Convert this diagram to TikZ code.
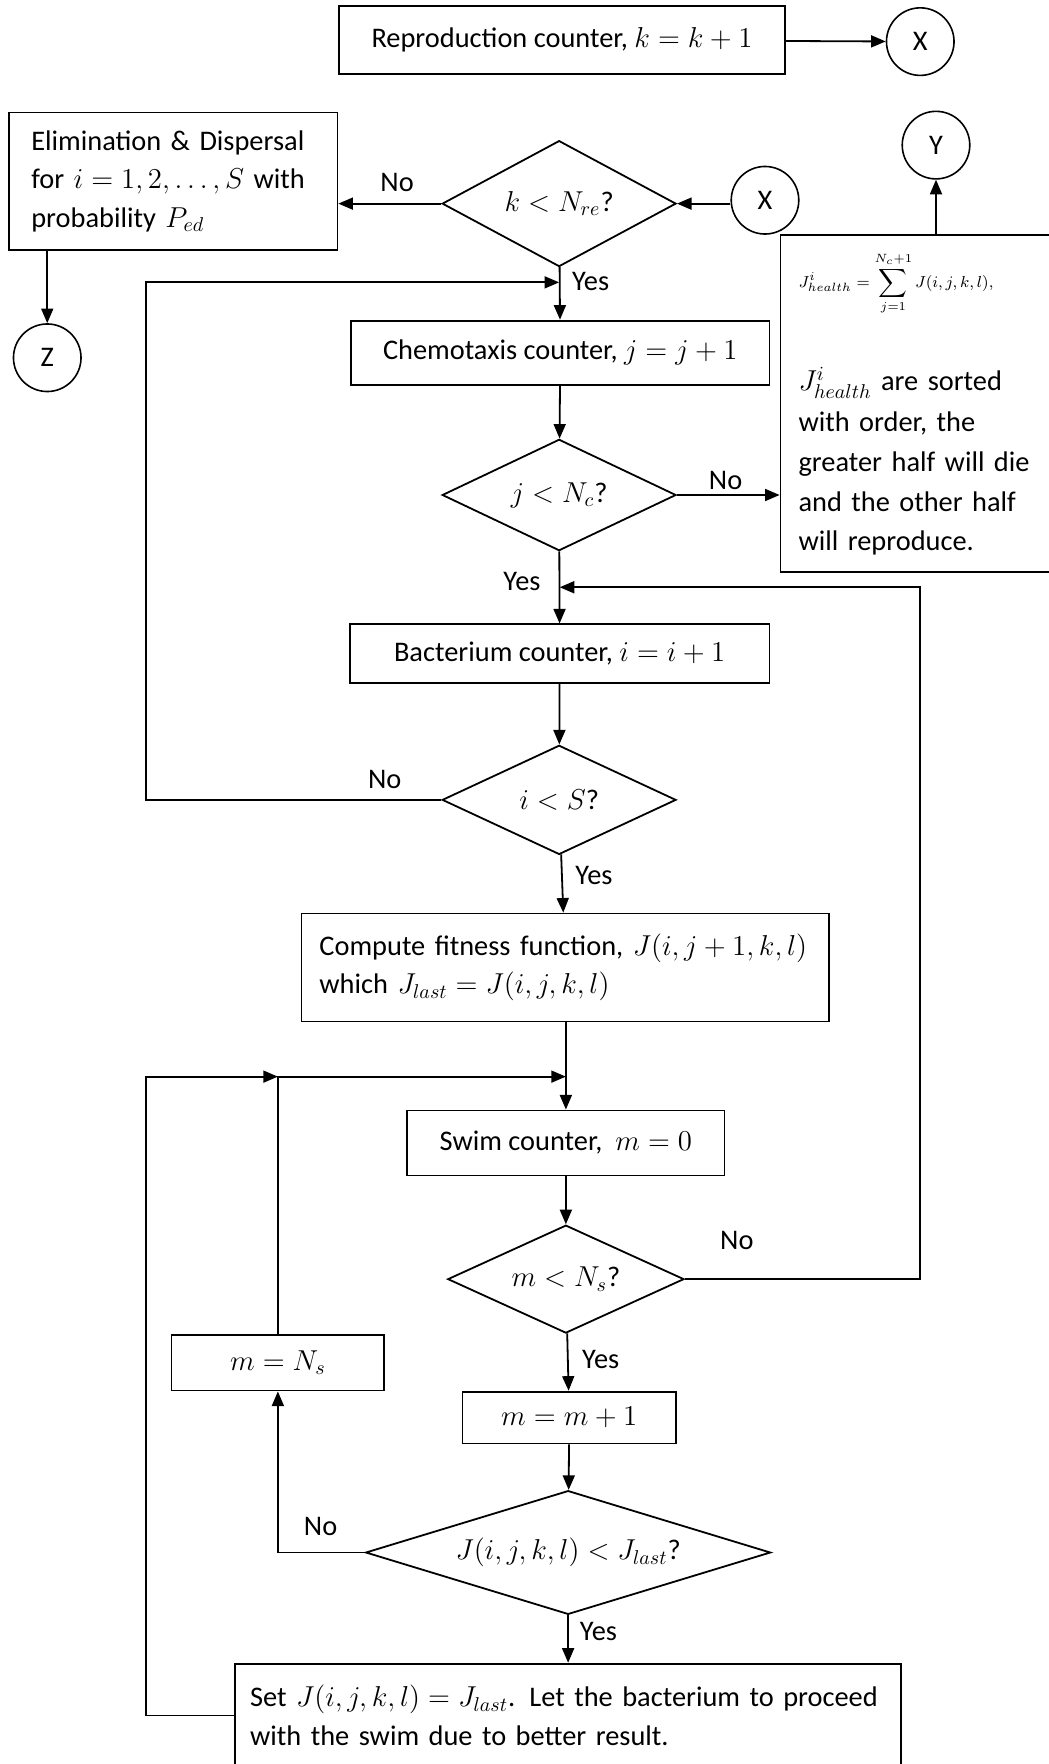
\documentclass[tikz,border=0pt]{standalone}
\usepackage{fontspec}
\setmainfont{Carlito}
\usetikzlibrary{shapes.geometric,arrows.meta,positioning}
\tikzset{
  box/.style = {draw, rectangle, line width=0.9pt, inner sep=0pt},
  decision/.style = {draw, diamond, line width=0.9pt, inner sep=0pt},
  conn/.style = {draw, circle, line width=0.8pt, minimum size=33.8pt, inner sep=0pt},
  lbl/.style = {inner sep=0pt},
  arr/.style = {-{Triangle[length=7.3pt,width=6pt]}, line width=0.9pt},
  link/.style = {line width=0.9pt}
}

\begin{document}
\begin{tikzpicture}[x=0.5628pt, y=0.5628pt, font=\fontsize{14.2pt}{19.3pt}\selectfont]
      \useasboundingbox (0,0) rectangle (932,-1568);

      % top row
      \node[box, minimum width=223.4pt, minimum height=34.3pt] (repro) at (499.5,-35.5) {Reproduction counter, $k = k + 1$};
      \node[conn] (X1) at (818,-37) {X};
      \draw[arr] (repro) -- (X1);

      % reproduction test
      \node[decision, aspect=1.86, minimum width=117pt, minimum height=63pt] (dec1) at (497,-181) {$k < N_{re}$?};
      \node[conn] (X2) at (680,-178) {X};
      \node[box, text width=142pt, inner xsep=11.15pt, minimum height=68.7pt, align=left] (elim) at (154,-161)
        {Elimination \& Dispersal\\ for $i = 1,2,\ldots,S$ with\\ probability $P_{ed}$};
      \node[conn] (Z) at (42,-318) {Z};
      \node[conn] (Y) at (832,-129) {Y};
      \node[box, anchor=north west, text width=118pt, inner xsep=9pt, minimum height=168.8pt, align=left] (health) at (693,-208)
        {{\footnotesize $\displaystyle J^{i}_{health} = \sum_{j=1}^{N_c+1} J(i,j,k,l),$}\\[25pt]
         {\fontsize{14.2pt}{20.1pt}\selectfont $J^{i}_{health}$ are sorted\\ with order, the\\ greater half will die\\ and the other half\\ will reproduce.}};

      % chemotaxis loop
      \node[box, minimum width=209.4pt, minimum height=32.1pt] (chemo) at (498,-313.5) {Chemotaxis counter, $j = j + 1$};
      \node[decision, aspect=2.1, minimum width=117pt, minimum height=55.7pt] (dec2) at (497,-440) {$j < N_c$?};
      \node[box, minimum width=209.9pt, minimum height=29.3pt] (bact) at (497.5,-581) {Bacterium counter, $i = i + 1$};
      \node[decision, aspect=2.1, minimum width=117pt, minimum height=54.6pt] (dec3) at (497,-711) {$i < S$?};
      \node[box, text width=246pt, inner xsep=9pt, minimum height=54pt, align=left] (fit) at (502.5,-860)
        {Compute fitness function, $J(i,j+1,k,l)$\\ which $J_{last} = J(i,j,k,l)$};

      % swim loop
      \node[box, minimum width=158.7pt, minimum height=32.6pt] (swim) at (503,-1016) {Swim counter,~ $m = 0$};
      \node[decision, aspect=2.2, minimum width=118.2pt, minimum height=54pt] (dec4) at (503,-1137) {$m < N_s$?};
      \node[box, minimum width=106.4pt, minimum height=27.6pt] (mN) at (247,-1211.5) {$m = N_s$};
      \node[box, minimum width=106.9pt, minimum height=25.9pt] (inc) at (506,-1260) {$m = m + 1$};
      \node[decision, aspect=3.27, minimum width=202.6pt, minimum height=61.9pt] (dec5) at (505,-1380) {$J(i,j,k,l) < J_{last}$?};
      \node[box, anchor=north west, text width=318pt, inner xsep=7.6pt, minimum height=51.8pt, align=left] (set) at (208,-1478)
        {Set $J(i,j,k,l) = J_{last}$. Let the bacterium to proceed\\ with the swim due to better result.};

      % Yes / No labels
      \node[lbl] (no1) at (353,-162) {No};
      \node[lbl] (yes1) at (525,-250) {Yes};
      \node[lbl] (no2) at (645,-427) {No};
      \node[lbl] (yes2) at (464,-517) {Yes};
      \node[lbl] (no3) at (342,-693) {No};
      \node[lbl] (yes3) at (528,-778) {Yes};
      \node[lbl] (no4) at (655,-1103) {No};
      \node[lbl] (yes4) at (534,-1208) {Yes};
      \node[lbl] (no5) at (285,-1357) {No};
      \node[lbl] (yes5) at (532,-1450) {Yes};

      % bends of the loops
      \coordinate (loopA) at (130,-251);
      \coordinate (loopB) at (818,-522);
      \coordinate (loopC) at (130,-957);

      % connectors
      \draw[arr] (X2.west |- dec1.east) -- (dec1.east);
      \draw[arr] (dec1.west) -- (elim.east |- dec1.west);
      \draw[arr] (elim.south -| Z.north) -- (Z);
      \draw[arr] (dec1) -- (chemo);
      \draw[arr] (chemo) -- (dec2);
      \draw[arr] (dec2) -- (health.west |- dec2.east);
      \draw[arr] (health.north -| Y.south) -- (Y);
      \draw[arr] (dec2) -- (bact);
      \draw[arr] (bact) -- (dec3);
      \draw[arr] (dec3.west) -| (loopA) -- (loopA -| dec1.south);
      \draw[arr] (dec3) -- (fit);
      \draw[arr] (fit.south -| swim.north) -- (swim);
      \draw[arr] (swim) -- (dec4);
      \draw[arr] (dec4.east) -| (loopB) -- (loopB -| bact.north);
      \draw[arr] (dec4) -- (inc);
      \draw[arr] (inc) -- (dec5);
      \draw[arr] (dec5.west) -| (mN.south);
      \draw[arr] (mN.north) |- (loopC -| swim.north);
      \draw[arr] (set.west) -| (loopC) -- (loopC -| mN.north);
      \draw[arr] (dec5) -- (set.north -| dec5.south);
\end{tikzpicture}
\end{document}
